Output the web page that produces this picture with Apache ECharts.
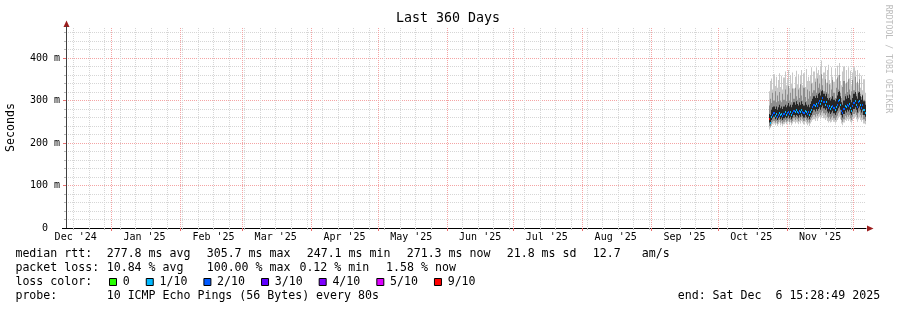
<!DOCTYPE html>
<html><head><meta charset="utf-8">
<script src="https://cdn.jsdelivr.net/npm/echarts@6/dist/echarts.min.js"></script>
<style>html,body{margin:0;padding:0;background:#fff}#c{width:897px;height:310px}</style>
</head><body><div id="c"></div>
<script>
// ---------- data ----------
const MONO = '"DejaVu Sans Mono", monospace';
const DAY = 86400000;
const endTime = Date.UTC(2025, 11, 6, 15, 28, 49);
const spanDays = 360;
const startTime = endTime - spanDays * DAY;
const firstSample = Date.UTC(2025, 9, 24, 12, 0, 0);   // 12h consolidated samples
const STEP = 12 * 3600000;

const monthLabels = ["Dec '24", "Jan '25", "Feb '25", "Mar '25", "Apr '25", "May '25",
                     "Jun '25", "Jul '25", "Aug '25", "Sep '25", "Oct '25", "Nov '25"];
const yTickValues = [0, 100, 200, 300, 400];
const yTickLabels = ["0  ", "100 m", "200 m", "300 m", "400 m"];
const yMax = 470.6;

// median rtt (ms) per 12h sample
const medianRtt = [256,247.1,262,266,270,264,268,262,266,271,
  265,269,263,268,272,266,270,274,268,272,
  266,270,276,272,278,274,270,276,272,278,
  274,270,276,272,268,272,266,272,278,284,
  290,286,292,286,294,298,292,300,305.7,296,
  290,296,286,282,286,280,284,288,282,278,
  284,290,298,302,290,276,270,280,288,284,
  290,286,292,282,276,286,294,298,290,284,
  296,300,290,282,290,278,271.3];
// smoke envelope (ms): outer / middle / inner bands
const smokeMin = [232,236,240,244,246,242,246,240,244,248,
  242,246,240,244,248,244,246,250,244,248,
  242,246,250,246,250,248,244,250,246,252,
  248,244,250,246,242,246,240,246,250,254,
  256,252,258,252,258,262,256,260,264,258,
  254,258,252,248,252,248,250,254,250,246,
  250,254,258,262,256,246,242,248,254,252,
  256,252,256,250,246,252,258,262,256,250,
  256,260,254,250,254,246,244];
const smokeLo2 = [240,238,246,250,252,248,252,246,250,254,
  248,252,246,250,254,250,252,256,250,254,
  248,252,258,254,258,256,252,258,254,260,
  256,252,258,254,250,254,248,254,258,262,
  266,262,268,264,268,272,266,272,276,270,
  266,270,262,258,262,256,260,264,258,254,
  260,264,270,274,266,254,250,256,264,260,
  266,262,266,258,254,262,268,272,266,260,
  270,274,266,260,266,256,252];
const smokeLo3 = [248,244,254,258,262,256,260,254,258,262,
  256,260,254,258,262,258,260,264,258,262,
  256,260,266,262,266,264,260,266,262,268,
  264,260,266,262,258,262,256,262,266,272,
  278,274,280,276,280,284,278,284,288,282,
  278,282,274,270,274,268,272,276,270,266,
  272,276,282,286,278,266,260,268,276,272,
  278,274,278,270,266,274,280,284,278,272,
  282,286,278,272,278,266,262];
const smokeHi3 = [268,266,278,284,286,280,286,278,284,290,
  282,286,280,286,290,284,288,294,286,290,
  284,290,296,290,298,292,288,296,290,298,
  292,288,296,290,286,290,284,292,298,304,
  310,306,312,306,316,318,312,322,324,316,
  310,316,306,302,306,300,304,310,302,298,
  304,312,320,322,310,296,290,300,310,304,
  312,306,314,302,296,306,316,320,310,304,
  318,320,310,302,312,298,290];
const smokeHi2 = [288,304,294,318,300,322,296,312,298,320,
  300,296,316,302,326,298,314,334,300,318,
  296,328,304,330,310,302,326,306,338,312,
  300,330,308,298,326,304,322,310,340,318,
  324,344,318,352,330,340,326,362,336,322,
  350,320,342,316,338,308,326,348,318,306,
  330,354,326,360,318,306,332,346,316,342,
  320,350,326,312,322,348,324,356,316,344,
  322,350,316,308,314,302,298];
const smokeMax = [322,346,352,326,362,334,356,330,348,364,
  332,358,326,354,368,336,350,372,330,360,
  340,366,328,356,370,338,362,330,358,372,
  336,364,332,374,346,356,346,360,378,342,
  368,352,378,364,372,360,382,394,352,366,
  380,342,372,384,348,338,378,356,344,376,
  350,382,360,388,346,336,368,380,340,372,
  344,378,352,370,336,366,378,370,342,372,
  338,364,330,358,324,350,318];
// packet loss per sample, in pings out of 10 (loss colour bin)
const lossBin = [9,1,1,2,2,1,1,2,2,1, 1,1,2,2,1,1,2,2,2,1,
  1,2,2,1,1,1,2,2,1,1, 2,2,1,1,2,2,1,1,1,2,
  2,1,1,2,2,2,1,1,2,2, 1,1,2,2,1,1,1,2,2,1,
  1,2,2,1,1,2,2,2,1,1, 2,2,1,1,1,2,2,1,1,2,
  2,1,1,2,2,1,1];

const lossLevels = [0, 1, 2, 3, 4, 5, 9];
const lossLabels = ["0", "1/10", "2/10", "3/10", "4/10", "5/10", "9/10"];
const lossColors = ["#26ff00", "#00b8ff", "#0059ff", "#5e00ff", "#7e00ff", "#dd00ff", "#ff0000"];

const statsRows = [
  [["median rtt:", 16], ["277.8 ms avg", 107.3], ["305.7 ms max", 207.3], ["247.1 ms min", 307.3],
   ["271.3 ms now", 407.3], ["21.8 ms sd", 507.3], ["12.7", 593.3], ["am/s", 642.3]],
  [["packet loss:", 16], ["10.84 % avg", 107.3], ["100.00 % max", 207.3], ["0.12 % min", 300], ["1.58 % now", 386.7]]
];
const probeText = "10 ICMP Echo Pings (56 Bytes) every 80s";
const endText = "end: Sat Dec  6 15:28:49 2025";

// ---------- derived ticks ----------
const monthStarts = [];
for (let k = 0; k <= 12; k++) monthStarts.push(Date.UTC(2024, 11 + k, 1));
const monthGrid = monthStarts.filter(t => t >= startTime && t <= endTime);
const labelValues = monthLabels.map((_, k) => monthStarts[k] + 15 * DAY);
const weekGrid = [];
for (let t = Date.UTC(2024, 11, 15); t <= endTime; t += 7 * DAY) weekGrid.push(t);
const minorY = [];
for (let v = 0; v <= 460; v += 20) minorY.push(v);

const SMOKE_LIGHT = '#c8c8c8', SMOKE_MID = '#8e8e8e', SMOKE_DARK = '#262626';

const seriesData = medianRtt.map((m, i) => [firstSample + i * STEP,
  smokeMin[i], smokeLo2[i], smokeLo3[i], m, smokeHi3[i], smokeHi2[i], smokeMax[i], lossBin[i]]);

function renderSmoke(params, api) {
  const t = api.value(0);
  const xa = Math.round(api.coord([t - STEP, 0])[0]);
  const xb = Math.round(api.coord([t, 0])[0]);
  const w = Math.max(1, xb - xa);
  const Y = v => api.coord([t, v])[1];
  const band = (lo, hi, color) => ({type: 'rect',
    shape: {x: xa, y: Y(hi), width: w, height: Y(lo) - Y(hi)}, style: {fill: color}});
  const yMed = Math.round(Y(api.value(4)));
  const lc = lossColors[Math.max(0, lossLevels.indexOf(api.value(8)))];
  return {type: 'group', children: [
    band(api.value(1), api.value(7), SMOKE_LIGHT),
    band(api.value(2), api.value(6), SMOKE_MID),
    band(api.value(3), api.value(5), SMOKE_DARK),
    {type: 'rect', shape: {x: xa, y: yMed - 1, width: w, height: 2}, style: {fill: lc}}
  ]};
}

function txt(text, x, y, o) {
  o = o || {};
  return {type: 'text', x: x, y: y, rotation: o.rotation || 0, silent: true, z: 100,
    style: {text: text, fill: o.fill || '#000', fontSize: o.size || 11.6, fontFamily: MONO,
      align: o.align || 'left', textAlign: o.align || 'left',
      verticalAlign: 'middle', textVerticalAlign: 'middle'}};
}

const graphics = [];
graphics.push(txt('Last 360 Days', 448, 19, {size: 13.3, align: 'center'}));
graphics.push(txt('Seconds', 10.5, 127.5, {rotation: Math.PI / 2, align: 'center'}));
graphics.push(txt('RRDTOOL / TOBI OETIKER', 888, 59, {rotation: -Math.PI / 2, align: 'center', size: 8.2, fill: '#bdbdbd'}));
const rowY = [254.3, 268.3, 282.3, 296.3];
statsRows.forEach((row, r) => row.forEach(([s, x]) => graphics.push(txt(s, x - 0.6, rowY[r]))));
graphics.push(txt('loss color:', 15.4, rowY[2]));
let lx = 109;
lossLabels.forEach((lab, k) => {
  graphics.push({type: 'rect', silent: true, z: 100, shape: {x: lx + 0.5, y: 278.5, width: 7, height: 7},
    style: {fill: lossColors[k], stroke: '#000', lineWidth: 1}});
  const tx = lx + 14.3;
  graphics.push(txt(lab, tx - 0.6, rowY[2]));
  lx = tx + lab.length * 6.96 + 15.5;
});
graphics.push(txt('probe:', 15.4, rowY[3]));
graphics.push(txt(probeText, 106.7, rowY[3]));
graphics.push(txt(endText, 677.7, rowY[3]));
// axis arrows
graphics.push({type: 'polygon', silent: true, z: 100, shape: {points: [[63.5, 27], [66.5, 20.5], [69.5, 27]]}, style: {fill: '#9b1c1c'}});
graphics.push({type: 'polygon', silent: true, z: 100, shape: {points: [[867, 225.5], [873.5, 228.5], [867, 231.5]]}, style: {fill: '#9b1c1c'}});
graphics.push({type: 'line', silent: true, z: 100, shape: {x1: 66.5, y1: 26, x2: 66.5, y2: 28}, style: {stroke: '#404040', lineWidth: 1}});
graphics.push({type: 'line', silent: true, z: 100, shape: {x1: 62, y1: 228.5, x2: 66, y2: 228.5}, style: {stroke: '#000', lineWidth: 1}});

const gridLine = (color) => ({show: true, lineStyle: {color: color, width: 1, type: [1, 1]}});

const option = {
  animation: false,
  backgroundColor: '#fff',
  grid: {left: 66, top: 28, width: 800, height: 200, containLabel: false},
  xAxis: [
    {type: 'value', min: startTime, max: endTime, position: 'bottom',
     axisLine: {show: true, onZero: false, lineStyle: {color: '#000', width: 1}},
     axisTick: {show: true, customValues: weekGrid, length: 2, lineStyle: {color: '#b8b8b8'}},
     axisLabel: {show: false},
     splitLine: gridLine('#d6d6d6')},
    {type: 'value', min: startTime, max: endTime, position: 'bottom',
     axisLine: {show: false, onZero: false},
     axisTick: {show: true, customValues: monthGrid, length: 3, lineStyle: {color: '#e87070'}},
     axisLabel: {show: true, customValues: labelValues, margin: 4, fontFamily: MONO, fontSize: 10, color: '#000',
       formatter: v => { const k = labelValues.indexOf(v); return k >= 0 ? monthLabels[k] : ''; }},
     splitLine: gridLine('#f4a4a4')}
  ],
  yAxis: [
    {type: 'value', min: 0, max: yMax, position: 'left',
     axisLine: {show: true, onZero: false, lineStyle: {color: '#404040', width: 1}},
     axisTick: {show: true, customValues: minorY, length: 2, lineStyle: {color: '#b8b8b8'}},
     axisLabel: {show: false},
     splitLine: gridLine('#d6d6d6')},
    {type: 'value', min: 0, max: yMax, position: 'left',
     axisLine: {show: false},
     axisTick: {show: true, customValues: yTickValues, length: 3, lineStyle: {color: '#e87070'}},
     axisLabel: {show: true, customValues: yTickValues, margin: 6, fontFamily: MONO, fontSize: 10, color: '#000',
       formatter: v => { const k = yTickValues.indexOf(v); return k >= 0 ? yTickLabels[k] : ''; }},
     splitLine: gridLine('#f4a4a4')}
  ],
  series: [{
    type: 'custom', xAxisIndex: 0, yAxisIndex: 0, clip: true,
    encode: {x: 0, y: 4},
    data: seriesData,
    renderItem: renderSmoke
  }],
  graphic: graphics
};

const chart = echarts.init(document.getElementById('c'), null, {renderer: 'canvas'});
chart.setOption(option);
</script>
</body></html>
